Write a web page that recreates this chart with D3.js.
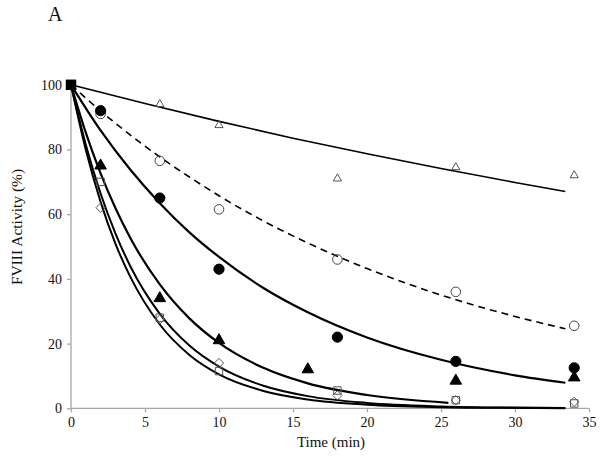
<!DOCTYPE html>
<html><head><meta charset="utf-8">
<script src="https://cdn.jsdelivr.net/npm/d3@7/dist/d3.min.js"></script>
<style>body{margin:0;background:#fff}svg{display:block}text{font-family:"Liberation Serif","Times New Roman",serif}</style>
</head><body><svg id="c" width="600" height="470"></svg>
<script>
// measured points
const timesA = [0, 6, 10, 18, 26, 34];
const openTriangle = [100, 94, 87.5, 71, 74.5, 72];
const times = [0, 2, 6, 10, 18, 26, 34];
const openCircle = [100, 91, 76.5, 61.5, 46, 36, 25.5];
const filledCircle = [100, 92, 65, 43, 22, 14.5, 12.5];
const timesB = [0, 2, 6, 10, 16, 26, 34];
const filledTriangle = [100, 75, 34, 21, 12, 8.5, 9.5];
const openSquare = [100, 70, 28, 11.5, 5.5, 2.5, 1.5];
const openDiamond = [100, 62, 27.5, 14, 4, 2.5, 2];

// fitted curves
const fitT1 = [0, 5, 10, 15, 20, 25, 30, 33.4];
const fitOpenTriangle = [100, 94.2, 88.7, 83.5, 78.7, 74.1, 69.8, 67];
const fitT2 = [0, 2, 4, 6, 8, 10, 13, 16, 20, 25, 30, 33.4];
const fitOpenCircle = [100, 91.9, 84.5, 77.7, 71.5, 65.7, 57.9, 51.1, 43.2, 35, 28.4, 24.6];
const fitFilledCircle = [100, 85.9, 73.8, 63.4, 54.4, 46.8, 37.2, 29.7, 21.9, 15, 10.2, 7.9];
const fitT3 = [0, 1, 2, 3, 4, 6, 8, 10, 13, 16, 20, 25.5];
const fitFilledTriangle = [100, 85.2, 72.6, 61.9, 52.7, 38.3, 27.8, 20.2, 12.5, 7.7, 4.1, 1.7];
const fitT4 = [0, 1, 2, 3, 4, 6, 8, 10, 13, 16, 20, 25, 30, 33.4];
const fitSquare = [100, 81.5, 66.4, 54.1, 44, 29.2, 19.4, 12.9, 6.97, 3.76, 1.66, 0.59, 0.21, 0.1];
const fitDiamond = [100, 79.9, 63.8, 50.9, 40.7, 25.9, 16.5, 10.5, 5.37, 2.73, 1.11, 0.36, 0.12, 0.05];

const xTicks = [0, 5, 10, 15, 20, 25, 30, 35];
const yTicks = [0, 20, 40, 60, 80, 100];

const svg = d3.select("#c");
const x = d3.scaleLinear().domain([0, 35]).range([71, 589]);
const y = d3.scaleLinear().domain([0, 100]).range([408.3, 84.8]);
const axisColor = "#a6a6a6";

// axes
const gx = svg.append("g").attr("transform", `translate(0,${y(0)})`)
  .call(d3.axisBottom(x).tickValues(xTicks).tickSize(4).tickPadding(5));
const gy = svg.append("g").attr("transform", `translate(${x(0)},0)`)
  .call(d3.axisLeft(y).tickValues(yTicks).tickSize(4).tickPadding(5));
[gx, gy].forEach(g => {
  g.attr("font-family", null).attr("font-size", null);
  g.select(".domain").attr("stroke", axisColor).attr("stroke-width", 1.3);
  g.selectAll(".tick line").attr("stroke", axisColor).attr("stroke-width", 1.3);
  g.selectAll(".tick text").attr("fill", "#111").style("font-size", "14px")
    .style("font-family", '"Liberation Serif", serif');
});
gx.select(".domain").attr("d", `M${x(0)},0H${x(35)}`);
gy.select(".domain").attr("d", `M0,${y(0)}V${y(100)}`);

// labels
svg.append("text").attr("x", 48).attr("y", 21).style("font-size", "20px").attr("fill", "#111").text("A");
svg.append("text").attr("x", 331).attr("y", 447).attr("text-anchor", "middle")
  .style("font-size", "15px").attr("fill", "#111").text("Time (min)");
svg.append("text").attr("transform", "translate(22,227) rotate(-90)")
  .attr("text-anchor", "middle").style("font-size", "15.5px").attr("fill", "#111").text("FVIII Activity (%)");

// fit lines
const line = d3.line().x(d => x(d[0])).y(d => y(d[1])).curve(d3.curveMonotoneX);
const fits = [
  [fitT1, fitOpenTriangle, 1.6, null],
  [fitT2, fitOpenCircle, 1.6, "7,5"],
  [fitT2, fitFilledCircle, 2.2, null],
  [fitT3, fitFilledTriangle, 2.2, null],
  [fitT4, fitSquare, 2.0, null],
  [fitT4, fitDiamond, 2.0, null]
];
fits.forEach(([t, v, w, dash]) => {
  svg.append("path").attr("d", line(t.map((ti, i) => [ti, v[i]])))
    .attr("fill", "none").attr("stroke", "#000").attr("stroke-width", w)
    .attr("stroke-dasharray", dash);
});

// markers
const sym = (type, size) => d3.symbol().type(type).size(size)();
const series = [
  [timesA, openTriangle, d3.symbolTriangle2, 48, "none", "#555"],
  [times, openCircle, d3.symbolCircle, 72, "none", "#444"],
  [times, filledCircle, d3.symbolCircle, 82, "#000", "#000"],
  [timesB, filledTriangle, d3.symbolTriangle, 58, "#000", "#000"],
  [times, openSquare, d3.symbolSquare2, 70, "none", "#555"],
  [times, openDiamond, d3.symbolDiamond2, 55, "none", "#555"]
];
series.forEach(([t, v, type, size, fill, stroke]) => {
  svg.append("g").selectAll("path").data(t.map((ti, i) => [ti, v[i]]).filter(d => d[0] > 0))
    .join("path").attr("d", sym(type, size))
    .attr("transform", d => `translate(${x(d[0])},${y(d[1])})`)
    .attr("fill", fill).attr("stroke", stroke).attr("stroke-width", 1);
});
// overlapping start point
svg.append("path").attr("d", sym(d3.symbolSquare, 110))
  .attr("transform", `translate(${x(0)},${y(100)})`).attr("fill", "#000");
</script></body></html>
